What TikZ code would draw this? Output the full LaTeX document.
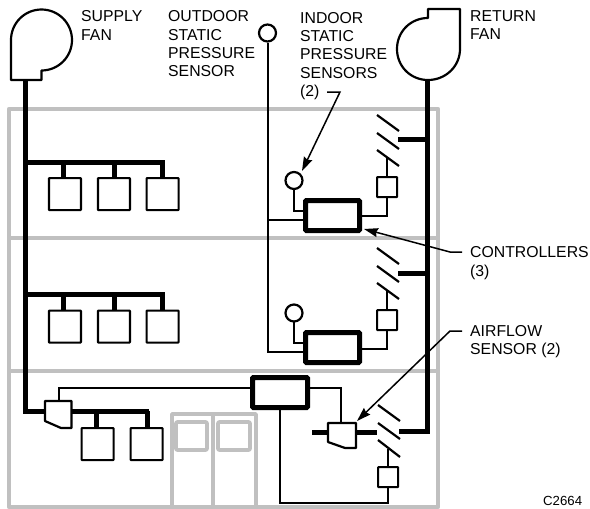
\documentclass[tikz,border=0pt]{standalone}
\usepackage{fontspec}
\setmainfont{Liberation Sans}
\usetikzlibrary{arrows.meta}
\definecolor{wallgray}{HTML}{C0C0C0}
\tikzset{
  wall/.style={draw=wallgray,line width=4.5pt,line join=round},
  door/.style={draw=wallgray,line width=3.6pt,line join=round},
  duct/.style={draw=black,line width=5pt},
  wire/.style={draw=black,line width=2pt},
  outline/.style={draw=black,fill=white,line width=2.2pt,line join=round},
  ctrl/.style={draw=black,fill=white,line width=5pt,rounded corners=1pt},
  blade/.style={draw=black,line width=2.2pt},
  leader/.style={draw=black,line width=1.5pt},
  tipped/.style={leader,-{Stealth[length=14pt,width=9pt,inset=1.5pt]}},
  label/.style={anchor=west,inner sep=0pt,font=\fontsize{15.8}{15.8}\selectfont},
}
\newcommand{\terminal}[3]{\node[outline,rounded corners=0.6pt,minimum width=#3pt,minimum height=#3pt,inner sep=0pt,anchor=north west] (#1) at #2 {};}
\begin{document}
\begin{tikzpicture}[x=1pt,y=-1pt]
\useasboundingbox (0,0) rectangle (590,509);
% building
\draw[wall] (9,109) rectangle (438,507);
\draw[wall] (9,238) -- (438,238);
\draw[wall] (9,371) -- (438,371);
% doors
\draw[door] (172,505) -- (172,414) -- (256,414) -- (256,505);
\draw[door] (213,414) -- (213,505);
\draw[door,fill=white,rounded corners=1pt] (176,422) rectangle (207,450);
\draw[door,fill=white,rounded corners=1pt] (218,422) rectangle (250,450);
% supply side
\coordinate (sfout) at (25.5,80);
\coordinate (sdend) at (25.5,411);
\draw[duct] (sfout) -- (sdend) -- (45,411);
\draw[duct] (25,162) -- (164.5,162);
\draw[duct] (63,162) -- (63,178); \draw[duct] (114,162) -- (114,178); \draw[duct] (162,162) -- (162,178);
\terminal{a1}{(47.8,177)}{32}\terminal{a2}{(96.8,177)}{32}\terminal{a3}{(145.5,177)}{32}
\draw[duct] (25,294) -- (164.5,294);
\draw[duct] (63,294) -- (63,311); \draw[duct] (114,294) -- (114,311); \draw[duct] (162,294) -- (162,311);
\terminal{b1}{(47.8,309.5)}{32}\terminal{b2}{(96.8,309.5)}{32}\terminal{b3}{(145.5,309.5)}{32}
\draw[duct] (72,411) -- (149,411);
\draw[duct] (96,411) -- (96,428); \draw[duct] (147,411) -- (147,428);
\terminal{c1}{(80.5,427)}{32}\terminal{c2}{(129.5,427)}{32}
% fans
\draw[outline] (11,80) -- (11,40) .. controls (11,23.15) and (24.65,9.5) .. (41.5,9.5)
  .. controls (58.35,9.5) and (72,23.15) .. (72,40)
  .. controls (72,56.85) and (58.35,70.5) .. (41.5,70.5) -- (41.5,80) -- cycle;
\coordinate (rfout) at (427,80);
\coordinate (rdend) at (427,431);
\draw[duct] (rfout) -- (rdend) -- (399,431);
\draw[duct] (398,139) -- (427,139);
\draw[duct] (398,273) -- (427,273);
\draw[outline] (428,18) .. controls (410.6,18) and (397,31.6) .. (397,49)
  .. controls (397,66.4) and (410.6,80) .. (428,80)
  .. controls (445.6,80) and (460,66.4) .. (460,49) -- (460,9) -- (428,9) -- cycle;
% outdoor sensor and wire
\node[outline,circle,minimum size=17pt,inner sep=0pt] (os) at (267.5,33) {};
\coordinate (w1) at (267.5,352);
\draw[wire] (os) -- (w1) -- (304,352);
% controllers
\draw[wire] (267.5,220) -- (304,220);
\node[ctrl,minimum width=54pt,minimum height=30pt,inner sep=0pt] (k1) at (332.5,215.5) {};
\node[ctrl,minimum width=54pt,minimum height=30pt,inner sep=0pt] (k2) at (332.5,347.5) {};
% indoor sensors
\node[outline,circle,minimum size=17pt,inner sep=0pt] (is1) at (294,180.5) {};
\node[outline,circle,minimum size=17pt,inner sep=0pt] (is2) at (294,313) {};
\draw[wire] (293.5,189) -- (293.5,210.5) -- (304,210.5);
\draw[wire] (293.5,321) -- (293.5,343) -- (304,343);
% damper columns
\foreach \n/\d in {1/0,2/133}{
  \draw[blade] (377,115+\d) -- (399,131+\d);
  \draw[blade] (377,133+\d) -- (399,149+\d);
  \draw[blade] (377,150+\d) -- (399,166+\d);
  \draw[wire] (387,158+\d) -- (387,176+\d);
  \draw[wire] (387,198+\d) -- (387,216+\d) -- (362,216+\d);
  \node[outline,rounded corners=0.6pt,minimum width=20pt,minimum height=20pt,inner sep=0pt,anchor=north west] (t\n) at (376,176+\d) {};
}
% basement controller
\draw[wire] (58.5,401) -- (58.5,388) -- (252,388);
\draw[wire] (280,408) -- (280,503) -- (388,503) -- (388,487);
\draw[wire] (308,388) -- (341,388) -- (341,423);
\node[ctrl,minimum width=55pt,minimum height=30pt,inner sep=0pt] (k3) at (280,392.5) {};
\draw[duct] (312,432) -- (328,432);
\draw[duct] (356,432) -- (377,432);
\draw[blade] (378,405) -- (400,421);
\draw[blade] (378,423) -- (400,439);
\draw[blade] (378,440) -- (400,457);
\draw[wire] (388,449) -- (388,466);
\node[outline,rounded corners=0.6pt,minimum width=20pt,minimum height=20pt,inner sep=0pt,anchor=north west] (t3) at (377,466) {};
% airflow sensors
\draw[outline] (45,401) -- (71.5,401) -- (71.5,428) -- (61,428) -- (45,421) -- cycle;
\draw[outline] (328,423) -- (356,423) -- (356,448) -- (345,448) -- (328,442) -- cycle;
% labels
\node[label] (l1) at (81,16) {SUPPLY};
\node[label] (l2) at (81,35) {FAN};
\node[label] (l3) at (168,16) {OUTDOOR};
\node[label] (l4) at (168,35) {STATIC};
\node[label] (l5) at (168,53) {PRESSURE};
\node[label] (l6) at (168,71) {SENSOR};
\node[label] (l7) at (300,18) {INDOOR};
\node[label] (l8) at (300,36) {STATIC};
\node[label] (l9) at (300,54) {PRESSURE};
\node[label] (l10) at (300,73) {SENSORS};
\node[label] (l11) at (300,92) {(2)};
\node[label] (l12) at (470,16) {RETURN};
\node[label] (l13) at (470,34) {FAN};
\node[label] (l14) at (470,252) {CONTROLLERS};
\node[label] (l15) at (470,272) {(3)};
\node[label] (l16) at (470,331) {AIRFLOW};
\node[label] (l17) at (470,350) {SENSOR (2)};
\node[anchor=west,inner sep=0pt,font=\fontsize{13.2}{13.2}\selectfont] (l18) at (543,501) {C2664};
% leaders
\draw[tipped] (327,92) -- (340,92) -- (302,171);
\draw[tipped] (462,252) -- (450,252) -- (364,229);
\draw[tipped] (462,331) -- (450,331) -- (357,421);
\end{tikzpicture}
\end{document}
